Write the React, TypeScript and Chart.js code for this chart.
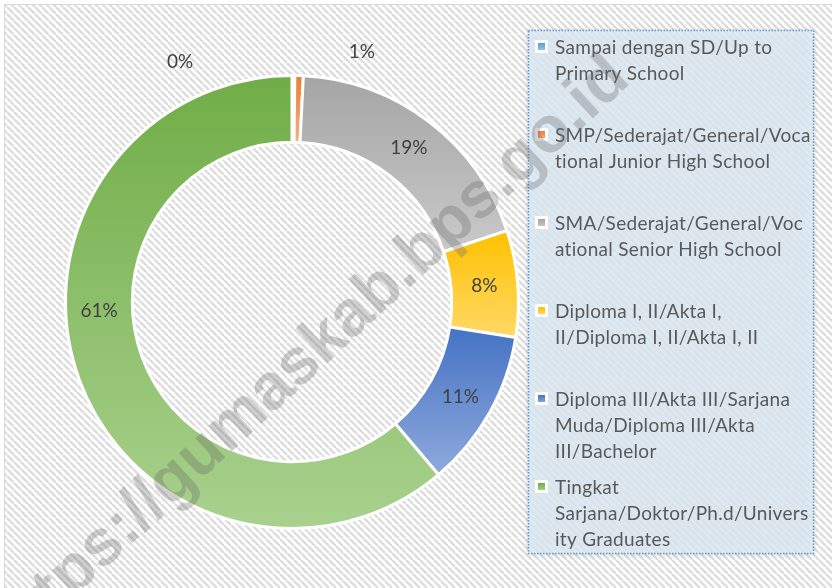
import React, { useEffect, useRef } from "react";
import { Chart, registerables } from "chart.js";

Chart.register(...registerables);

// ---- data ----
const categories: string[][] = [
  ["Sampai dengan SD/Up to", "Primary School"],
  ["SMP/Sederajat/General/Voca", "tional Junior High School"],
  ["SMA/Sederajat/General/Voc", "ational Senior High School"],
  ["Diploma I, II/Akta I,", "II/Diploma I, II/Akta I, II"],
  ["Diploma III/Akta III/Sarjana", "Muda/Diploma III/Akta", "III/Bachelor"],
  ["Tingkat", "Sarjana/Doktor/Ph.d/Univers", "ity Graduates"],
];
const shares = [0.2, 0.6, 19.1, 7.6, 11.3, 61.2];
const watermarkText = "https://gumaskab.bps.go.id";

// ---- styles ----
const topColors = ["#5b9bd5", "#ed7d31", "#a5a5a5", "#ffc000", "#4472c4", "#70ad47"];
const bottomColors = ["#9dc3e6", "#f4b183", "#c9c9c9", "#ffd966", "#8faadc", "#a9d18e"];
const CUTOUT = 0.705;

const total = shares.reduce((a, b) => a + b, 0);

function sliceGradient(ctx: any) {
  const chart = ctx.chart;
  const i = ctx.dataIndex;
  const area = chart.chartArea;
  if (i === undefined || !area) return topColors[0];
  const ctrl: any = chart.getDatasetMeta(0).controller;
  const R = ctrl && ctrl.outerRadius ? ctrl.outerRadius : Math.min(area.width, area.height) / 2;
  const r = ctrl && ctrl.innerRadius ? ctrl.innerRadius : R * CUTOUT;
  const cy = (area.top + area.bottom) / 2;
  let cum = 0;
  for (let k = 0; k < i; k++) cum += shares[k];
  const a0 = -Math.PI / 2 + (cum / total) * Math.PI * 2;
  const a1 = a0 + (shares[i] / total) * Math.PI * 2;
  const ys = [R * Math.sin(a0), R * Math.sin(a1), r * Math.sin(a0), r * Math.sin(a1)];
  if (a0 <= Math.PI / 2 && a1 >= Math.PI / 2) ys.push(R);
  if (a0 <= -Math.PI / 2 || a1 >= (3 * Math.PI) / 2) ys.push(-R);
  let minY = Math.min(...ys);
  let maxY = Math.max(...ys);
  if (maxY - minY < 1) maxY = minY + 1;
  const g = chart.ctx.createLinearGradient(0, cy + minY, 0, cy + maxY);
  g.addColorStop(0, topColors[i]);
  g.addColorStop(1, bottomColors[i]);
  return g;
}

let stripePattern: CanvasPattern | null = null;
function getStripes(ctx: CanvasRenderingContext2D) {
  if (stripePattern) return stripePattern;
  const s = 7;
  const c = document.createElement("canvas");
  c.width = s;
  c.height = s;
  const p = c.getContext("2d")!;
  p.fillStyle = "#ffffff";
  p.fillRect(0, 0, s, s);
  p.strokeStyle = "#dddddd";
  p.lineWidth = 2.4;
  for (const off of [-s, 0, s]) {
    p.beginPath();
    p.moveTo(off, 0);
    p.lineTo(off + s, s);
    p.stroke();
  }
  stripePattern = ctx.createPattern(c, "repeat");
  return stripePattern;
}

const backgroundPlugin = {
  id: "bgStripes",
  beforeDraw(chart: any) {
    const { ctx, width, height } = chart;
    ctx.save();
    ctx.fillStyle = "#ffffff";
    ctx.fillRect(0, 0, width, height);
    ctx.fillStyle = getStripes(ctx);
    ctx.fillRect(5, 5, width - 5, height - 5);
    ctx.strokeStyle = "#d9d9d9";
    ctx.lineWidth = 1;
    ctx.beginPath();
    ctx.moveTo(4.5, height);
    ctx.lineTo(4.5, 4.5);
    ctx.lineTo(width, 4.5);
    ctx.stroke();
    ctx.restore();
  },
};

const labelOpts: Record<number, { shift: number; outside?: number }> = {
  0: { shift: -25.4, outside: 38 },
  1: { shift: 13.8, outside: 33 },
  5: { shift: 17.5 },
};

const labelPlugin = {
  id: "pctLabels",
  afterDatasetsDraw(chart: any) {
    const { ctx } = chart;
    const meta = chart.getDatasetMeta(0);
    ctx.save();
    ctx.font = "19px Lato";
    ctx.fillStyle = "#404040";
    ctx.textAlign = "center";
    ctx.textBaseline = "middle";
    meta.data.forEach((arc: any, i: number) => {
      const o = labelOpts[i] || { shift: 0 };
      const mid = (arc.startAngle + arc.endAngle) / 2 + (o.shift * Math.PI) / 180;
      const rad = o.outside !== undefined ? arc.outerRadius + o.outside : (arc.outerRadius + arc.innerRadius) / 2;
      const x = arc.x + Math.cos(mid) * rad;
      const y = arc.y + Math.sin(mid) * rad;
      ctx.fillText(Math.round((shares[i] / total) * 100) + "%", x, y);
    });
    ctx.restore();
  },
};

const legendPlugin = {
  id: "boxLegend",
  afterDraw(chart: any) {
    const { ctx } = chart;
    const bx = 528, by = 30, bw = 285, bh = 523;
    ctx.save();
    ctx.shadowColor = "rgba(0,0,0,0.18)";
    ctx.shadowBlur = 6;
    ctx.shadowOffsetY = 1;
    ctx.fillStyle = "rgba(222,235,247,0.82)";
    ctx.fillRect(bx, by, bw, bh);
    ctx.restore();

    ctx.save();
    ctx.strokeStyle = "#5b9bd5";
    ctx.lineWidth = 1.5;
    ctx.setLineDash([1.5, 1.5]);
    ctx.strokeRect(bx + 0.5, by + 0.5, bw, bh);
    ctx.restore();

    ctx.save();
    ctx.font = "19px Lato";
    (ctx as any).letterSpacing = "0.3px";
    ctx.fillStyle = "#595959";
    ctx.textAlign = "left";
    ctx.textBaseline = "middle";
    categories.forEach((lines, i) => {
      const y0 = 47 + i * 88;
      ctx.fillStyle = "#ffffff";
      ctx.fillRect(535, y0 - 7, 13, 13);
      const g = ctx.createLinearGradient(0, y0 - 4, 0, y0 + 4);
      g.addColorStop(0, topColors[i]);
      g.addColorStop(1, bottomColors[i]);
      ctx.fillStyle = g;
      ctx.fillRect(538, y0 - 4, 7, 7);
      ctx.fillStyle = "#595959";
      lines.forEach((ln, j) => ctx.fillText(ln, 555, y0 + j * 26 + 1));
    });
    ctx.restore();

    // watermark
    ctx.save();
    ctx.translate(632, 82);
    ctx.rotate((-42.7 * Math.PI) / 180);
    ctx.font = "bold 65px 'Liberation Sans'";
    ctx.fillStyle = "rgba(100,100,100,0.3)";
    ctx.textAlign = "right";
    ctx.textBaseline = "alphabetic";
    ctx.fillText(watermarkText, 0, 0);
    ctx.restore();
  },
};

export default function App() {
  const ref = useRef<HTMLCanvasElement | null>(null);
  useEffect(() => {
    document.body.style.margin = "0";
    if (!ref.current) return;
    const chart = new Chart(ref.current, {
      type: "doughnut",
      data: {
        labels: categories,
        datasets: [
          {
            data: shares,
            backgroundColor: sliceGradient as any,
            borderColor: "#ffffff",
            borderWidth: 3,
          },
        ],
      },
      options: {
        responsive: false,
        animation: false,
        devicePixelRatio: 1,
        cutout: CUTOUT * 100 + "%",
        layout: { padding: { left: 64, top: 74, right: 312, bottom: 58 } },
        plugins: {
          legend: { display: false },
          tooltip: { enabled: false },
        },
      },
      plugins: [backgroundPlugin, labelPlugin, legendPlugin],
    });
    return () => chart.destroy();
  }, []);
  return (
    <div style={{ width: 832, height: 588 }}>
      <canvas ref={ref} width={832} height={588} style={{ display: "block" }} />
    </div>
  );
}
